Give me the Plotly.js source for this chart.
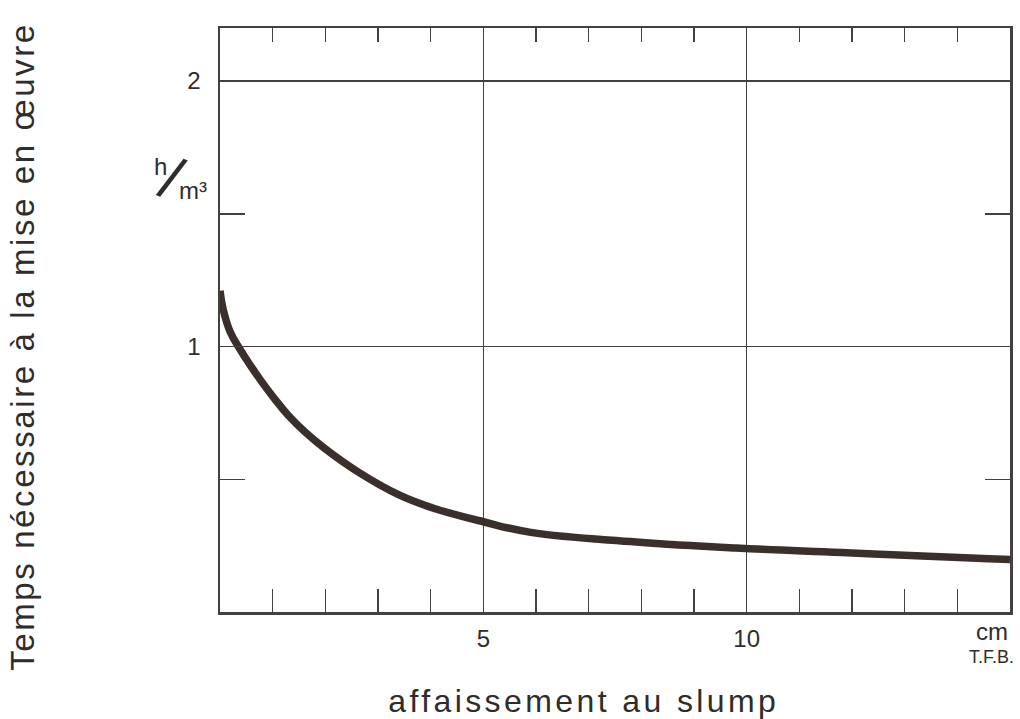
<!DOCTYPE html>
<html>
<head>
<meta charset="utf-8">
<script src="https://cdn.plot.ly/plotly-3.0.1.min.js"></script>
<style>
  html, body { margin: 0; padding: 0; background: #fff; }
  #chart { width: 1020px; height: 719px; }
  .annotation[data-index="0"] text { letter-spacing: 2.6px !important; }
  .annotation[data-index="1"] text { letter-spacing: 3.4px !important; }
</style>
</head>
<body>
<div id="chart"></div>
<script>
// Slump (cm) vs time needed for placement (h/m3)
const slumpCm = [0, 0.06, 0.19, 0.38, 0.57, 0.79, 1.03, 1.29, 1.61, 1.99, 2.62, 3.41, 4.04, 5.0, 5.9, 7.9, 9.8, 11.8, 14.6, 15];
const hoursPerM3 = [1.21, 1.14, 1.057, 0.99, 0.931, 0.868, 0.805, 0.742, 0.679, 0.616, 0.528, 0.44, 0.392, 0.34, 0.30, 0.264, 0.241, 0.224, 0.201, 0.198];

const xMajorTicks = [5, 10];
const xMajorLabels = ['5', '10'];
const yMajorTicks = [1, 2];
const yMajorLabels = ['1', '2'];
const yMinorTicks = [0.5, 1.5];

const yTitle = 'Temps nécessaire à la mise en œuvre';
const xTitle = 'affaissement au slump';
const xUnit = 'cm';
const source = 'T.F.B.';

const ink = '#2f2c2c';
const lineInk = '#454040';
const font = 'Liberation Sans, Arial, Helvetica, sans-serif';

const curve = {
  x: slumpCm,
  y: hoursPerM3,
  mode: 'lines',
  line: { color: '#3a2f2b', width: 7.5, shape: 'spline', smoothing: 1.2 },
  hoverinfo: 'x+y',
  showlegend: false
};

// same data on the top overlay axis, invisible: only there so the top tick row is drawn
const topAxisCarrier = {
  x: slumpCm,
  y: hoursPerM3,
  xaxis: 'x2',
  yaxis: 'y',
  mode: 'lines',
  line: { color: 'rgba(0,0,0,0)', width: 0 },
  hoverinfo: 'skip',
  showlegend: false
};

const layout = {
  width: 1020,
  height: 719,
  margin: { l: 220, r: 10, t: 28, b: 107 },
  paper_bgcolor: '#ffffff',
  plot_bgcolor: '#ffffff',
  font: { family: font, color: ink, size: 24 },
  showlegend: false,
  xaxis: {
    range: [0, 15],
    tickmode: 'array',
    tickvals: xMajorTicks,
    ticktext: xMajorLabels,
    ticks: 'inside',
    ticklen: 23,
    tickwidth: 1.5,
    tickcolor: lineInk,
    showgrid: true,
    gridcolor: lineInk,
    gridwidth: 1.5,
    showline: true,
    linecolor: lineInk,
    linewidth: 2.5,
    mirror: true,
    zeroline: false,
    ticklabelstandoff: 4,
    tickfont: { size: 24, color: ink, family: font },
    minor: { dtick: 1, tick0: 0, ticks: 'inside', ticklen: 23, tickwidth: 1.5, tickcolor: lineInk, showgrid: false }
  },
  xaxis2: {
    overlaying: 'x',
    anchor: 'y',
    side: 'top',
    range: [0, 15],
    tickmode: 'linear',
    dtick: 1,
    tick0: 0,
    ticks: 'inside',
    ticklen: 14,
    tickwidth: 1.5,
    tickcolor: lineInk,
    showticklabels: false,
    showgrid: false,
    zeroline: false,
    showline: false
  },
  yaxis: {
    range: [0, 2.2],
    tickmode: 'array',
    tickvals: yMajorTicks,
    ticktext: yMajorLabels,
    ticks: 'inside',
    ticklen: 25,
    tickwidth: 1.5,
    tickcolor: lineInk,
    showgrid: true,
    gridcolor: lineInk,
    gridwidth: 1.5,
    showline: true,
    linecolor: lineInk,
    linewidth: 2.5,
    mirror: 'ticks',
    zeroline: false,
    ticklabelstandoff: 12,
    tickfont: { size: 24, color: ink, family: font },
    minor: { tickmode: 'array', tickvals: yMinorTicks, ticks: 'inside', ticklen: 25, tickwidth: 1.5, tickcolor: lineInk, showgrid: false }
  },
  annotations: [
    { text: yTitle, xref: 'paper', yref: 'paper', x: -0.2506, y: 0.455, textangle: -90,
      showarrow: false, xanchor: 'center', yanchor: 'middle', font: { size: 33, color: ink, family: font } },
    { text: xTitle, xref: 'paper', yref: 'paper', x: 0.461, y: -0.152,
      showarrow: false, xanchor: 'center', yanchor: 'middle', font: { size: 32, color: ink, family: font } },
    { text: xUnit, xref: 'paper', yref: 'paper', x: 0.977, y: -0.034,
      showarrow: false, xanchor: 'center', yanchor: 'middle', font: { size: 24, color: ink, family: font } },
    { text: source, xref: 'paper', yref: 'paper', x: 0.976, y: -0.077,
      showarrow: false, xanchor: 'center', yanchor: 'middle', font: { size: 18, color: ink, family: font } },
    { text: 'h', xref: 'paper', yref: 'paper', x: -0.0759, y: 0.762,
      showarrow: false, xanchor: 'center', yanchor: 'middle', font: { size: 24, color: ink, family: font } },
    { text: '/', xref: 'paper', yref: 'paper', x: -0.062, y: 0.742, textangle: 22,
      showarrow: false, xanchor: 'center', yanchor: 'middle', font: { size: 60, color: ink, family: font } },
    { text: 'm³', xref: 'paper', yref: 'paper', x: -0.0345, y: 0.722,
      showarrow: false, xanchor: 'center', yanchor: 'middle', font: { size: 24, color: ink, family: font } }
  ]
};

Plotly.newPlot('chart', [curve, topAxisCarrier], layout, { staticPlot: true, displayModeBar: false });
</script>
</body>
</html>
